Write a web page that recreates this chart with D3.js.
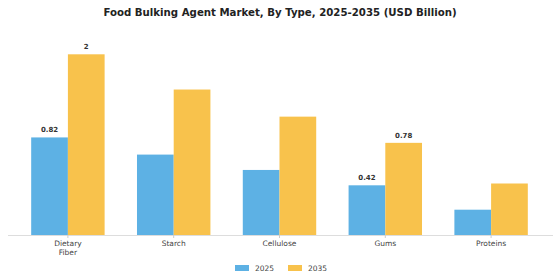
<!DOCTYPE html>
<html>
<head>
<meta charset="utf-8">
<script src="https://cdn.jsdelivr.net/npm/d3@7"></script>
<style>
  body { margin: 0; background: #fff; }
  svg { display: block; font-family: "DejaVu Sans", sans-serif; }
</style>
</head>
<body>
<div id="chart"></div>
<script>
// data
var categories = ["Dietary Fiber", "Starch", "Cellulose", "Gums", "Proteins"];
var years = ["2025", "2035"];
var values2025 = [1.08, 0.89, 0.72, 0.55, 0.28];
var values2035 = [2.0, 1.61, 1.31, 1.02, 0.57];
// printed labels (only some bars carry one)
var labels2025 = ["0.82", "", "", "0.42", ""];
var labels2035 = ["2", "", "", "0.78", ""];
var colors = ["#5DB1E4", "#F8C24C"];

var width = 560, height = 280;
var baseline = 235, topY = 54.3;

var svg = d3.select("#chart")
  .append("svg")
  .attr("width", width)
  .attr("height", height);

svg.append("text")
  .attr("x", width / 2)
  .attr("y", 15.5)
  .attr("text-anchor", "middle")
  .style("font-weight", "bold")
  .style("font-size", "10.2px")
  .style("fill", "#222")
  .text("Food Bulking Agent Market, By Type, 2025-2035 (USD Billion)");

var x = d3.scaleBand()
  .domain(categories)
  .range([15, 544])
  .paddingInner(0.306)
  .paddingOuter(0.153);

var xInner = d3.scaleBand()
  .domain(years)
  .range([0, x.bandwidth()]);

var y = d3.scaleLinear()
  .domain([0, 2])
  .range([baseline, topY]);

// build rows for the groups
var rows = categories.map(function(c, i) {
  return [
    { cat: c, year: "2025", v: values2025[i], label: labels2025[i] },
    { cat: c, year: "2035", v: values2035[i], label: labels2035[i] }
  ];
});

var group = svg.selectAll(".group")
  .data(rows)
  .enter().append("g")
  .attr("class", "group")
  .attr("transform", function(d) { return "translate(" + x(d[0].cat) + ",0)"; });

group.selectAll("rect")
  .data(function(d) { return d; })
  .enter().append("rect")
  .attr("x", function(d) { return xInner(d.year); })
  .attr("y", function(d) { return y(d.v); })
  .attr("width", xInner.bandwidth())
  .attr("height", function(d) { return baseline - y(d.v); })
  .style("fill", function(d, i) { return colors[i]; });

group.selectAll(".val")
  .data(function(d) { return d.filter(function(e) { return e.label; }); })
  .enter().append("text")
  .attr("class", "val")
  .attr("x", function(d) { return xInner(d.year) + xInner.bandwidth() / 2; })
  .attr("y", function(d) { return y(d.v) - 5; })
  .attr("text-anchor", "middle")
  .style("font-size", "7px")
  .style("font-weight", "bold")
  .style("fill", "#333")
  .text(function(d) { return d.label; });

// x axis line
svg.append("line")
  .attr("x1", 8).attr("x2", 553)
  .attr("y1", baseline + 0.5).attr("y2", baseline + 0.5)
  .style("stroke", "#ddd");

var ticks = svg.selectAll(".tick")
  .data(categories)
  .enter().append("g")
  .attr("class", "tick")
  .attr("transform", function(d) { return "translate(" + (x(d) + x.bandwidth() / 2) + ",0)"; });

ticks.append("line")
  .attr("y1", baseline).attr("y2", baseline + 3)
  .style("stroke", "#ccc");

ticks.append("text")
  .attr("text-anchor", "middle")
  .style("font-size", "7.5px")
  .style("fill", "#444")
  .each(function(d) {
    var words = d.split(" ");
    var t = d3.select(this);
    words.forEach(function(w, i) {
      t.append("tspan").attr("x", 0).attr("y", baseline + 11 + i * 9).text(w);
    });
  });

// legend
var legend = svg.selectAll(".legend")
  .data(years)
  .enter().append("g")
  .attr("class", "legend")
  .attr("transform", function(d, i) { return "translate(" + (235 + i * 53) + ",265)"; });

legend.append("rect")
  .attr("width", 14).attr("height", 6)
  .style("fill", function(d, i) { return colors[i]; });

legend.append("text")
  .attr("x", 20).attr("y", 6)
  .style("font-size", "7.5px")
  .style("fill", "#444")
  .text(function(d) { return d; });
</script>
</body>
</html>
